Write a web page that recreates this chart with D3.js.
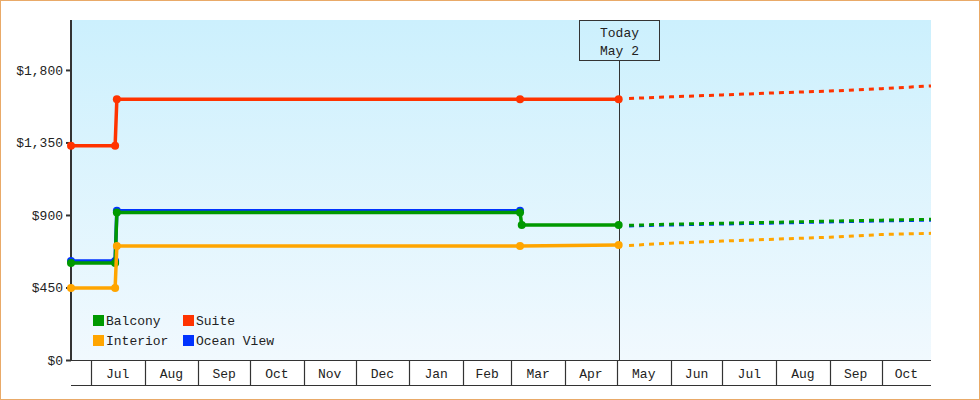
<!DOCTYPE html>
<html>
<head>
<meta charset="utf-8">
<script src="https://cdn.jsdelivr.net/npm/d3@7"></script>
<style>
  html, body { margin: 0; padding: 0; background: #fff; }
  svg { display: block; }
  text { font-family: "Liberation Mono", "DejaVu Sans Mono", monospace; font-size: 13px; fill: #222; }
</style>
</head>
<body>
<script>
// ---- Data ----
const domainDates = ["2024-06-19T12:00", "2025-10-29T12:00"];
const yTicks = [0, 450, 900, 1350, 1800];
const yMax = 2110;
const monthTicks = ["2024-07-01","2024-08-01","2024-09-01","2024-10-01","2024-11-01","2024-12-01","2025-01-01","2025-02-01","2025-03-01","2025-04-01","2025-05-01","2025-06-01","2025-07-01","2025-08-01","2025-09-01","2025-10-01"];
const monthLabels = ["Jul","Aug","Sep","Oct","Nov","Dec","Jan","Feb","Mar","Apr","May","Jun","Jul","Aug","Sep","Oct"];
const todayDate = "2025-05-02";
const todayLabel = ["Today", "May 2"];

const seriesNames = ["Ocean View", "Balcony", "Interior", "Suite"];
const seriesColors = ["#0033ff", "#009900", "#ffa500", "#ff3300"];

// historical (solid) points: [date, price]
const oceanViewHist = [["2024-06-19T12:00", 615], ["2024-07-15", 615], ["2024-07-16", 927], ["2025-03-06", 927]];
const balconyHist   = [["2024-06-19T12:00", 602], ["2024-07-15", 602], ["2024-07-16", 915], ["2025-03-06", 915], ["2025-03-07", 838], ["2025-05-02", 838]];
const interiorHist  = [["2024-06-19T12:00", 447], ["2024-07-15", 447], ["2024-07-16", 707], ["2025-03-06", 707], ["2025-05-02", 713]];
const suiteHist     = [["2024-06-19T12:00", 1330], ["2024-07-15", 1330], ["2024-07-16", 1618], ["2025-03-06", 1618], ["2025-05-02", 1618]];

// forecast (dashed) points
const forecastDates = ["2025-05-08", "2025-06-01", "2025-07-01", "2025-08-01", "2025-09-01", "2025-10-01", "2025-10-29T12:00"];
const oceanViewFc = [832, 838, 844, 850, 857, 863, 868];
const balconyFc   = [836, 843, 849, 855, 862, 868, 873];
const interiorFc  = [711, 725, 738, 750, 762, 779, 786];
const suiteFc     = [1623, 1633, 1645, 1658, 1669, 1684, 1701];

const legendOrder = [["Balcony", "#009900"], ["Suite", "#ff3300"], ["Interior", "#ffa500"], ["Ocean View", "#0033ff"]];

// ---- Drawing ----
const W = 980, H = 400;
const mLeft = 71, mRight = 931, mTop = 20, mBottom = 360, axisBottom = 385;
const parse = s => new Date(s);

const svg = d3.select("body").append("svg").attr("width", W).attr("height", H);

// border
svg.append("rect").attr("x", 0.5).attr("y", 0.5).attr("width", W - 1).attr("height", H - 1)
  .attr("fill", "#fff").attr("stroke", "#e9aa68").attr("stroke-width", 1);

const defs = svg.append("defs");
const grad = defs.append("linearGradient").attr("id", "bg").attr("x1", 0).attr("y1", 0).attr("x2", 0).attr("y2", 1);
grad.append("stop").attr("offset", "0%").attr("stop-color", "#ccf0fd");
grad.append("stop").attr("offset", "100%").attr("stop-color", "#f1f9fe");

const x = d3.scaleTime().domain(domainDates.map(parse)).range([mLeft, mRight]);
const y = d3.scaleLinear().domain([0, yMax]).range([mBottom, mTop]);

svg.append("rect").attr("x", mLeft).attr("y", mTop).attr("width", mRight - mLeft).attr("height", mBottom - mTop)
  .attr("fill", "url(#bg)");

// y axis
const yAxis = d3.axisLeft(y).tickValues(yTicks).tickSize(5).tickPadding(3)
  .tickFormat(d => "$" + d3.format(",")(d));
const yg = svg.append("g").attr("transform", `translate(${mLeft},0)`).call(yAxis);
yg.select(".domain").remove();
yg.selectAll(".tick line").attr("stroke", "#333").attr("stroke-width", 2);
yg.selectAll(".tick text").attr("fill", "#222").style("font-family", "Liberation Mono").style("font-size", "13px");
svg.append("line").attr("x1", mLeft).attr("x2", mLeft).attr("y1", mTop).attr("y2", mBottom + 1)
  .attr("stroke", "#333").attr("stroke-width", 2);

// x axis band
const xg = svg.append("g");
xg.append("line").attr("x1", mLeft).attr("x2", mRight).attr("y1", mBottom + 0.5).attr("y2", mBottom + 0.5).attr("stroke", "#333").attr("stroke-width", 1.2);
xg.append("line").attr("x1", mLeft).attr("x2", mRight).attr("y1", axisBottom + 0.5).attr("y2", axisBottom + 0.5).attr("stroke", "#333").attr("stroke-width", 1.2);
const mDates = monthTicks.map(parse);
mDates.forEach((d, i) => {
  const x0 = Math.round(x(d)) + 0.5;
  xg.append("line").attr("x1", x0).attr("x2", x0).attr("y1", mBottom).attr("y2", axisBottom).attr("stroke", "#333").attr("stroke-width", 1.2);
  const next = i + 1 < mDates.length ? x(mDates[i + 1]) : mRight;
  xg.append("text").attr("x", (x(d) + next) / 2).attr("y", 378).attr("text-anchor", "middle").text(monthLabels[i]);
});

// today line & box
const tx = Math.round(x(parse(todayDate))) + 0.5;
svg.append("line").attr("x1", tx).attr("x2", tx).attr("y1", 60).attr("y2", mBottom).attr("stroke", "#333").attr("stroke-width", 1);
svg.append("rect").attr("x", tx - 40).attr("y", 20.5).attr("width", 80).attr("height", 40)
  .attr("fill", "none").attr("stroke", "#333").attr("stroke-width", 1);
svg.append("text").attr("x", tx).attr("y", 37).attr("text-anchor", "middle").text(todayLabel[0]);
svg.append("text").attr("x", tx).attr("y", 55).attr("text-anchor", "middle").text(todayLabel[1]);

// series
const hist = [oceanViewHist, balconyHist, interiorHist, suiteHist];
const fc = [oceanViewFc, balconyFc, interiorFc, suiteFc];
const line = d3.line().x(d => x(d[0])).y(d => y(d[1]));

fc.forEach((vals, i) => {
  const pts = forecastDates.map((d, j) => [parse(d), vals[j]]);
  svg.append("path").attr("d", line(pts)).attr("fill", "none")
    .attr("stroke", seriesColors[i]).attr("stroke-width", 3).attr("stroke-dasharray", "5,5");
});
hist.forEach((pts0, i) => {
  const pts = pts0.map(p => [parse(p[0]), p[1]]);
  const g = svg.append("g");
  g.append("path").attr("d", line(pts)).attr("fill", "none")
    .attr("stroke", seriesColors[i]).attr("stroke-width", 3.5).attr("stroke-linejoin", "round");
  g.selectAll("circle").data(pts).enter().append("circle")
    .attr("cx", d => x(d[0])).attr("cy", d => y(d[1])).attr("r", 4).attr("fill", seriesColors[i]);
});

// legend
const lg = svg.append("g");
legendOrder.forEach((d, i) => {
  const col = i % 2, row = Math.floor(i / 2);
  const lx = 93 + col * 90, ly = 315 + row * 20;
  lg.append("rect").attr("x", lx).attr("y", ly).attr("width", 11).attr("height", 11).attr("fill", d[1]);
  lg.append("text").attr("x", lx + 13).attr("y", ly + 10).text(d[0]);
});
</script>
</body>
</html>
